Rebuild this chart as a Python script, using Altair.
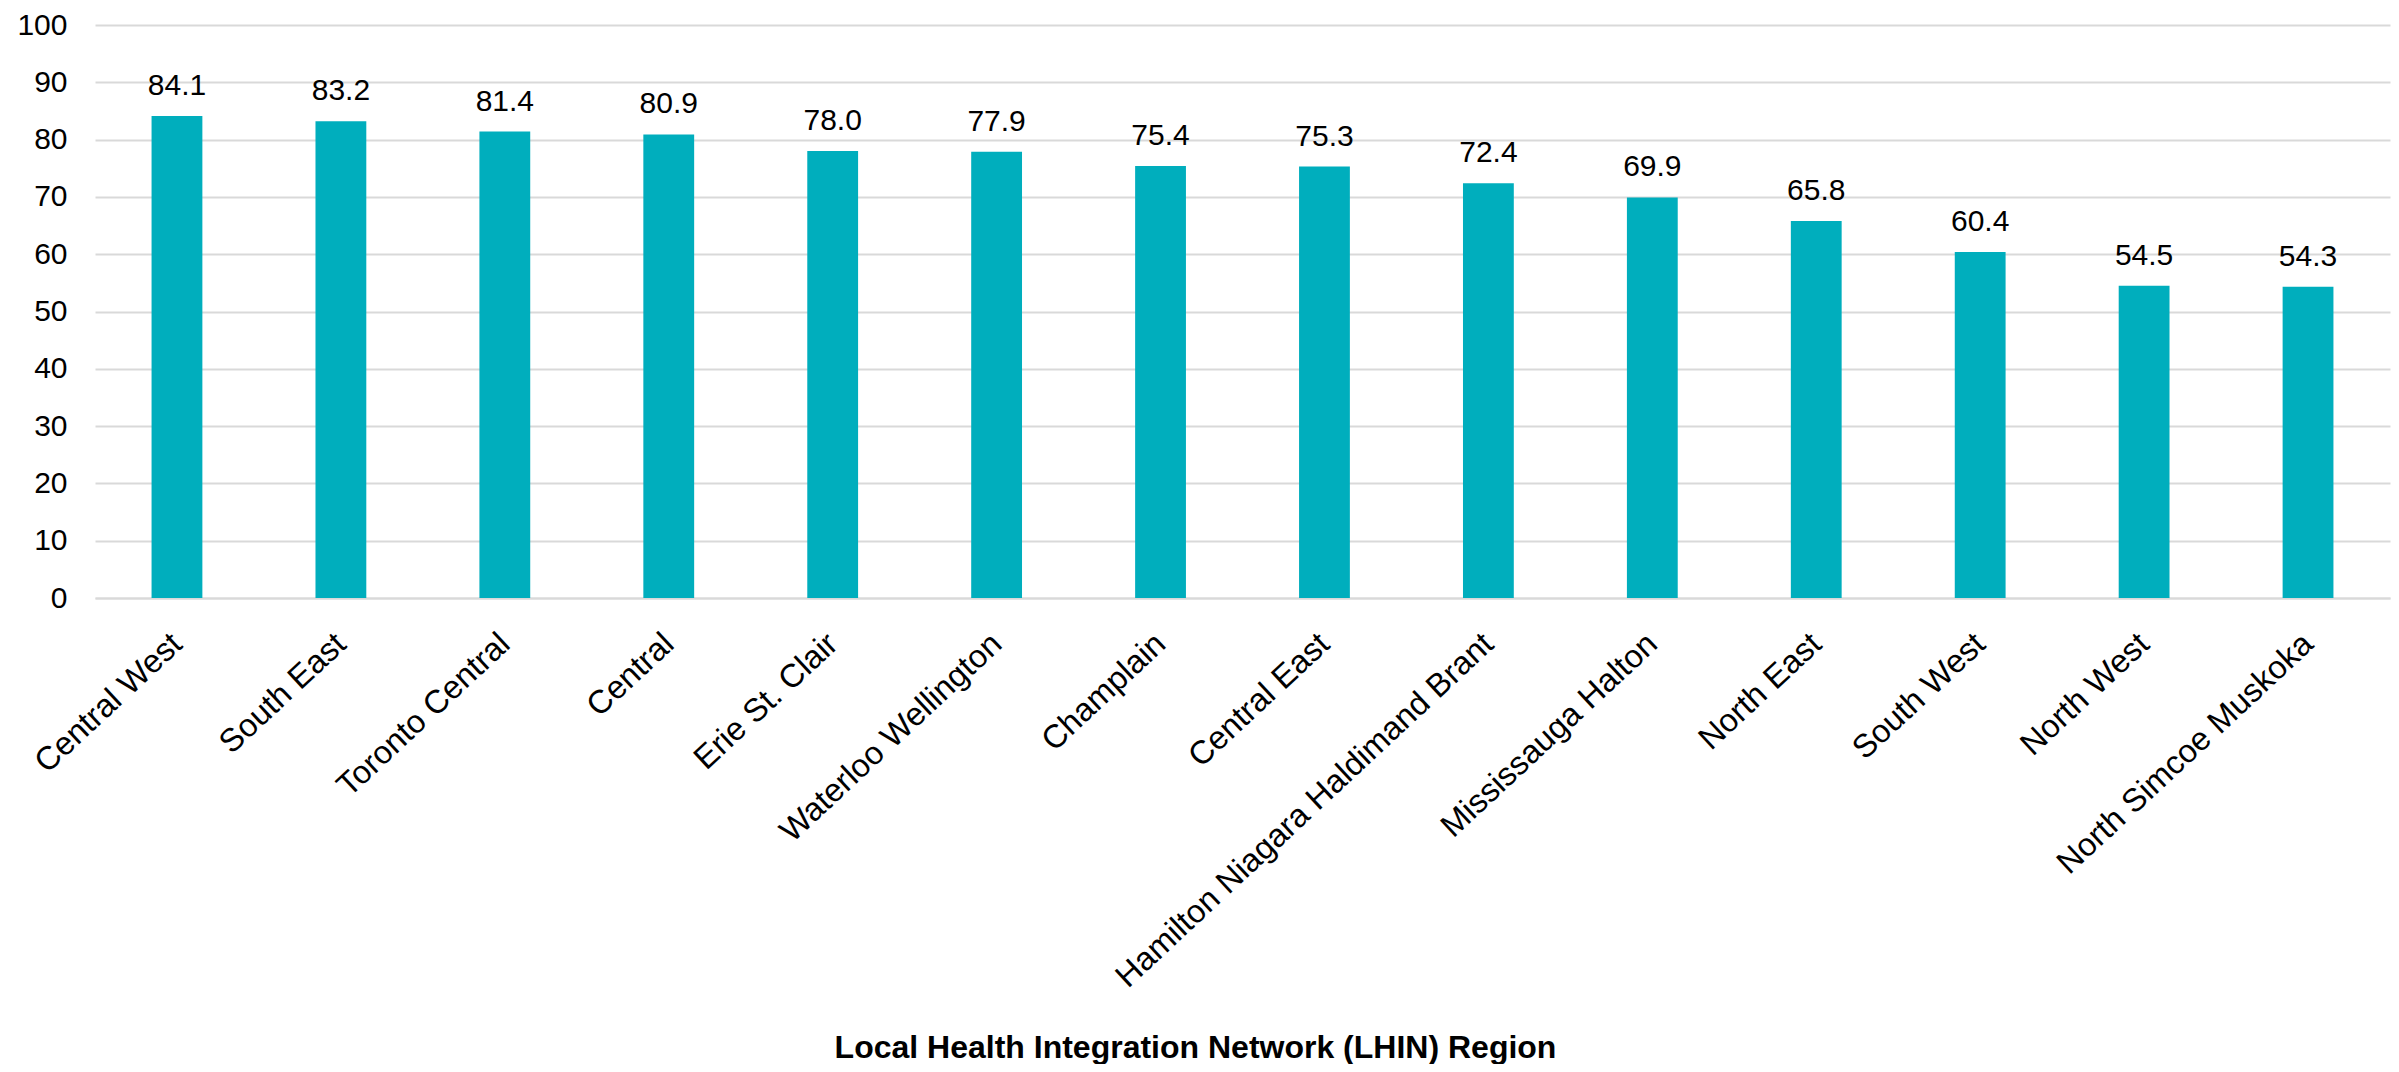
import altair as alt
import pandas as pd

regions = [
    "Central West", "South East", "Toronto Central", "Central", "Erie St. Clair",
    "Waterloo Wellington", "Champlain", "Central East",
    "Hamilton Niagara Haldimand Brant", "Mississauga Halton", "North East",
    "South West", "North West", "North Simcoe Muskoka",
]
values = [84.1, 83.2, 81.4, 80.9, 78.0, 77.9, 75.4, 75.3, 72.4, 69.9, 65.8, 60.4, 54.5, 54.3]
y_ticks = list(range(0, 101, 10))
x_title = "Local Health Integration Network (LHIN) Region"

df = pd.DataFrame({"region": regions, "value": values})

FONT = "Liberation Sans"
BAR = "#00AEBD"
GRID = "#d9d9d9"

x_enc = alt.X(
    "region:N",
    sort=None,
    title=x_title,
    scale=alt.Scale(paddingInner=0.69, paddingOuter=0.345),
    axis=alt.Axis(
        labelAngle=-43,
        labelAlign="right",
        labelBaseline="alphabetic",
        labelFontSize=32.5,
        labelFont=FONT,
        labelColor="#000000",
        labelPadding=48,
        labelOffset=7,
        labelLimit=2000,
        ticks=False,
        domain=True,
        domainColor=GRID,
        domainWidth=2,
        titleFont=FONT,
        titleFontSize=32,
        titleFontWeight="bold",
        titleColor="#000000",
        titleX=1100,
        titleY=459,
        titleAlign="center",
        titleBaseline="alphabetic",
    ),
)

y_enc = alt.Y(
    "value:Q",
    scale=alt.Scale(domain=[0, 100], nice=False),
    axis=alt.Axis(
        values=y_ticks,
        title=None,
        grid=True,
        gridColor=GRID,
        gridWidth=2,
        domain=False,
        ticks=False,
        labelPadding=28,
        labelFontSize=30,
        labelFont=FONT,
        labelColor="#000000",
    ),
)

base = alt.Chart(df).encode(x=x_enc, y=y_enc)

bars = base.mark_bar(color=BAR)
labels = base.mark_text(
    dy=-21, baseline="alphabetic", fontSize=30, font=FONT, color="#000000"
).encode(text=alt.Text("value:Q", format=".1f"))

chart = (
    alt.layer(bars, labels)
    .properties(
        width=2295,
        height=573,
        autosize=alt.AutoSizeParams(type="none"),
        padding={"left": 87, "top": 17, "right": 1, "bottom": 466},
        background="white",
    )
    .configure_view(stroke=None)
)

chart.save("out.html", embed_options={"renderer": "svg", "actions": False})
